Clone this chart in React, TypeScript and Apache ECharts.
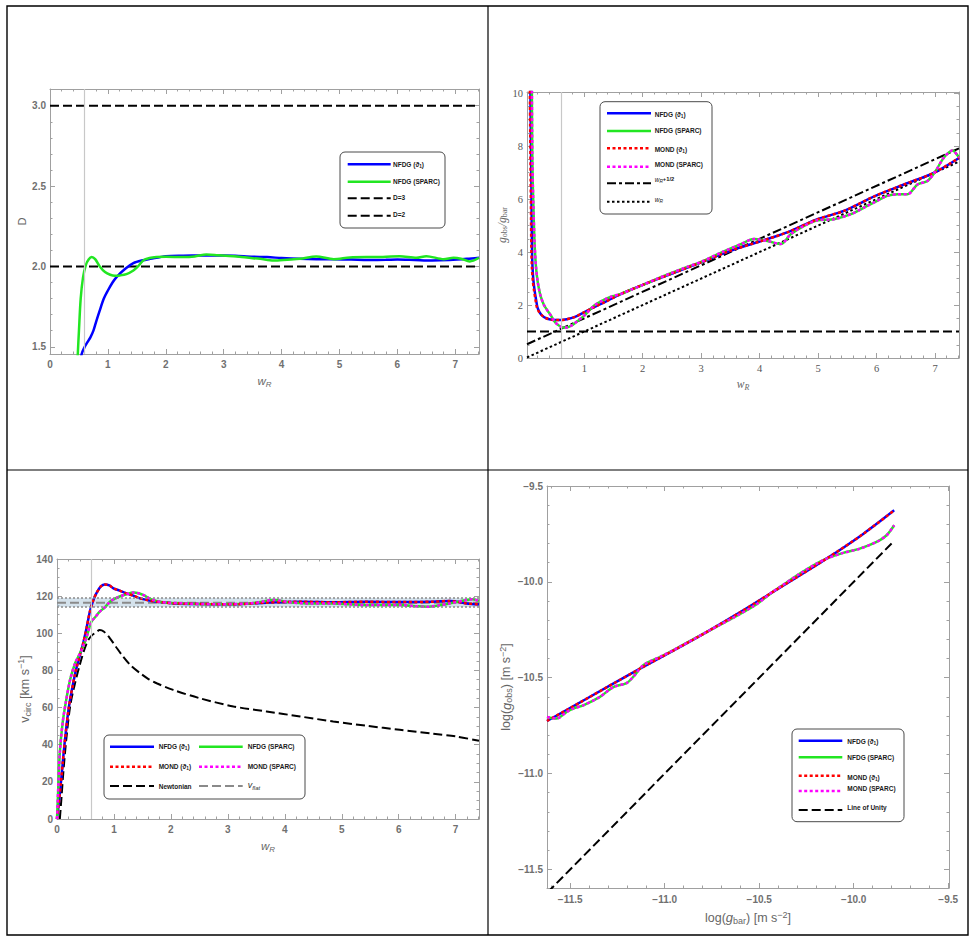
import React, { useEffect, useRef } from "react";
import * as echarts from "echarts";

// ---------------- Panel A (top-left): D vs w_R ----------------
const aNfdgWR = [0.52, 0.547, 0.6, 0.65, 0.7, 0.75, 0.8, 0.86, 0.93, 1.0, 1.08, 1.15, 1.3, 1.44, 1.6, 1.73, 2.0, 2.3, 2.6, 3.0, 3.2, 3.5, 3.75, 4.0, 4.3, 4.6, 4.9, 5.2, 5.5, 5.8, 6.0, 6.3, 6.6, 6.9, 7.2, 7.41];
const aNfdgD = [1.38, 1.455, 1.5, 1.53, 1.56, 1.6, 1.66, 1.727, 1.8, 1.85, 1.9, 1.934, 1.985, 2.02, 2.038, 2.047, 2.064, 2.067, 2.068, 2.068, 2.066, 2.06, 2.058, 2.052, 2.047, 2.045, 2.045, 2.043, 2.04, 2.041, 2.043, 2.04, 2.037, 2.04, 2.047, 2.054];
const aSparcWR = [0.45, 0.48, 0.5, 0.53, 0.57, 0.62, 0.67, 0.72, 0.78, 0.86, 0.95, 1.04, 1.12, 1.21, 1.32, 1.44, 1.52, 1.61, 1.72, 1.84, 2.0, 2.3, 2.5, 2.7, 2.9, 3.17, 3.4, 3.63, 3.86, 4.1, 4.32, 4.6, 4.9, 5.18, 5.47, 5.75, 6.04, 6.33, 6.5, 6.8, 6.97, 7.1, 7.25, 7.41];
const aSparcD = [1.2, 1.455, 1.6, 1.8, 1.93, 2.01, 2.045, 2.058, 2.045, 2.0, 1.965, 1.948, 1.942, 1.944, 1.952, 1.975, 2.0, 2.037, 2.052, 2.058, 2.06, 2.058, 2.062, 2.074, 2.07, 2.064, 2.055, 2.047, 2.037, 2.042, 2.047, 2.062, 2.045, 2.056, 2.058, 2.058, 2.064, 2.054, 2.064, 2.045, 2.054, 2.048, 2.031, 2.054];
const aRefWR = [0, 7.41];
const aD3 = [3, 3];
const aD2 = [2, 2];
const aXTicks = [0, 1, 2, 3, 4, 5, 6, 7];
const aYTicks = [1.5, 2.0, 2.5, 3.0];

// ---------------- Panel B (top-right): g_obs/g_bar vs w_R ----------------
const bNfdgWR = [0.077, 0.085, 0.094, 0.1, 0.105, 0.115, 0.13, 0.15, 0.175, 0.2, 0.236, 0.28, 0.35, 0.45, 0.6, 0.7, 0.83, 1.0, 1.17, 1.34, 1.63, 2.0, 2.48, 3.0, 3.5, 3.99, 4.47, 4.99, 5.44, 5.98, 6.47, 6.98, 7.41];
const bNfdgG = [10.3, 8.5, 6.68, 5.3, 4.16, 3.4, 2.92, 2.55, 2.2, 1.9, 1.72, 1.6, 1.5, 1.44, 1.43, 1.46, 1.54, 1.73, 1.92, 2.1, 2.42, 2.76, 3.17, 3.61, 4.05, 4.39, 4.74, 5.24, 5.55, 6.12, 6.55, 6.99, 7.55];
const bMondWR = [0.068, 0.075, 0.083, 0.089, 0.094, 0.104, 0.119, 0.14, 0.165, 0.19, 0.23, 0.28, 0.35, 0.45, 0.6, 0.7, 0.83, 1.0, 1.17, 1.34, 1.63, 2.0, 2.48, 3.0, 3.5, 3.99, 4.47, 4.99, 5.44, 5.98, 6.47, 6.98, 7.41];
const bMondG = [10.3, 8.5, 6.68, 5.3, 4.16, 3.4, 2.92, 2.55, 2.2, 1.9, 1.72, 1.6, 1.5, 1.44, 1.43, 1.46, 1.54, 1.73, 1.92, 2.1, 2.42, 2.76, 3.17, 3.61, 4.05, 4.39, 4.74, 5.24, 5.55, 6.12, 6.55, 6.99, 7.55];
const bSparcWR = [0.103, 0.107, 0.112, 0.12, 0.135, 0.15, 0.175, 0.2, 0.23, 0.26, 0.31, 0.37, 0.43, 0.48, 0.55, 0.62, 0.7, 0.8, 0.9, 1.0, 1.17, 1.34, 1.48, 1.63, 1.8, 1.97, 2.2, 2.48, 2.75, 3.0, 3.34, 3.68, 3.9, 4.13, 4.36, 4.53, 4.76, 4.99, 5.27, 5.56, 5.84, 6.01, 6.18, 6.36, 6.53, 6.7, 6.87, 7.01, 7.15, 7.3, 7.41];
const bSparcG = [10.3, 8.6, 7.4, 6.5, 5.3, 4.3, 3.4, 2.92, 2.55, 2.29, 2.0, 1.79, 1.6, 1.41, 1.25, 1.16, 1.15, 1.25, 1.42, 1.6, 1.98, 2.2, 2.33, 2.42, 2.58, 2.73, 2.95, 3.2, 3.43, 3.63, 3.98, 4.3, 4.49, 4.42, 4.3, 4.67, 4.99, 5.2, 5.24, 5.43, 5.74, 5.93, 6.12, 6.18, 6.18, 6.55, 6.68, 7.06, 7.56, 7.83, 7.56];
const bRefWR = [0.02, 7.41];
const bHalf = [0.52, 7.91];
const bUnit = [0.02, 7.41];
const bOne = [1, 1];
const bXTicks = [1, 2, 3, 4, 5, 6, 7];
const bYTicks = [0, 2, 4, 6, 8, 10];

// ---------------- Panel C (bottom-left): v_circ vs w_R ----------------
const cNfdgWR = [0, 0.03, 0.07, 0.1, 0.14, 0.21, 0.32, 0.4, 0.46, 0.52, 0.58, 0.64, 0.7, 0.77, 0.84, 0.92, 0.99, 1.1, 1.22, 1.34, 1.46, 1.6, 1.75, 1.9, 2.04, 2.5, 3.1, 3.68, 4.27, 4.85, 5.44, 6.02, 6.6, 6.9, 7.19, 7.41];
const cNfdgV = [0, 8, 20, 30, 42.6, 60.6, 78.5, 88, 94.6, 103, 112, 118, 122, 125.2, 126.3, 125.8, 124.2, 123, 121.5, 120.3, 118.8, 117.8, 117, 116.5, 116.1, 115.8, 115.6, 116.5, 117, 116.7, 117, 116.8, 117, 117.4, 116.1, 115.6];
const cSparcWR = [0, 0.02, 0.05, 0.1, 0.15, 0.23, 0.32, 0.4, 0.46, 0.52, 0.6, 0.68, 0.75, 0.84, 0.93, 1.02, 1.1, 1.22, 1.34, 1.43, 1.52, 1.6, 1.69, 1.8, 1.93, 2.22, 2.8, 3.39, 3.6, 3.8, 4.09, 4.38, 4.85, 5.14, 5.44, 6.02, 6.3, 6.49, 6.7, 6.9, 7.19, 7.3, 7.41];
const cSparcV = [0, 15, 36, 52, 62, 75, 84, 89, 93, 98, 106, 109, 111.6, 114, 117, 118.7, 119.8, 121, 121.9, 121.6, 120.6, 119.2, 117.9, 117, 116.5, 116.1, 115.6, 116.1, 117, 117.9, 116.7, 116.1, 116.1, 115.6, 115.2, 115.2, 114.6, 114.3, 115, 116.1, 117.9, 118.3, 117.4];
const cNewtWR = [0.05, 0.08, 0.11, 0.16, 0.23, 0.3, 0.4, 0.52, 0.6, 0.7, 0.75, 0.82, 0.93, 1.04, 1.16, 1.3, 1.46, 1.6, 1.75, 2.04, 2.51, 3.1, 3.68, 4.27, 4.85, 5.44, 6.02, 6.6, 7.0, 7.41];
const cNewtV = [0, 12, 24.7, 42, 60.6, 71, 83, 94.6, 98.5, 100.9, 101.8, 101, 97.3, 92.5, 87.5, 82.5, 78.5, 75.5, 73.1, 69.5, 65, 60.6, 57.9, 55.2, 52.5, 50.2, 48, 45.9, 44.5, 42.1];
const cFlatWR = [0, 7.41];
const cFlatV = [116.5, 116.5];
const cBand = [114.2, 119.0];
const cXTicks = [0, 1, 2, 3, 4, 5, 6, 7];
const cYTicks = [0, 20, 40, 60, 80, 100, 120, 140];

// ---------------- Panel D (bottom-right): log g_obs vs log g_bar ----------------
const dNfdgBar = [-11.623, -11.4, -11.131, -10.95, -10.779, -10.6, -10.391, -10.144, -9.95, -9.786];
const dNfdgObs = [-10.726, -10.602, -10.453, -10.356, -10.262, -10.158, -10.03, -9.879, -9.75, -9.627];
const dSparcBar = [-11.623, -11.572, -11.519, -11.484, -11.431, -11.343, -11.272, -11.202, -11.167, -11.114, -11.026, -10.956, -10.779, -10.532, -10.426, -10.391, -10.285, -10.197, -10.144, -10.056, -9.968, -9.879, -9.826, -9.786];
const dSparcObs = [-10.705, -10.713, -10.679, -10.661, -10.644, -10.6, -10.549, -10.528, -10.496, -10.435, -10.392, -10.357, -10.262, -10.128, -10.05, -10.027, -9.957, -9.905, -9.879, -9.849, -9.827, -9.792, -9.757, -9.705];
const dUnity = [-11.62, -9.786];
const dTicks = [-11.5, -11.0, -10.5, -10.0, -9.5];

const markWR = 0.6;

// ---------------- styling ----------------
const SANS = "'Liberation Sans', Arial, Helvetica, 'DejaVu Sans', sans-serif";
const SERIF = "'Liberation Serif', 'Times New Roman', 'DejaVu Serif', serif";
const FRAME = "#a0a0a0";

const ST: Record<string, { color: string; width: number; dash?: number[] }> = {
  nfdg: { color: "#0000ff", width: 2.5 },
  sparc: { color: "#22e622", width: 2.5 },
  mond: { color: "#ff0000", width: 2.5, dash: [3, 2.5] },
  mondS: { color: "#ff00ff", width: 2.5, dash: [3, 2.5] },
  dashed: { color: "#000000", width: 2, dash: [9, 4] },
  dashdot: { color: "#000000", width: 2, dash: [9, 3, 3, 3] },
  dotted: { color: "#000000", width: 2, dash: [2.5, 2.5] },
  flat: { color: "#8a8a8a", width: 2, dash: [9, 4] },
};

const range = (a: number, b: number, s: number) => {
  const out: number[] = [];
  for (let v = a; v <= b + 1e-9; v += s) out.push(+v.toFixed(4));
  return out;
};
const zip = (xs: number[], ys: number[]) => xs.map((x, i) => [x, ys[i]]);

const tickSans = { fontFamily: SANS, fontSize: 10, color: "#707070", fontWeight: "bold" };
const tickSerif = { fontFamily: SERIF, fontSize: 10.5, color: "#555555" };

const nameRich = (family: string, size: number) => ({
  n: { fontFamily: family, fontSize: size, color: "#666", lineHeight: size + 3 },
  i: { fontFamily: family, fontSize: size + 0.5, color: "#666", fontStyle: "italic", lineHeight: size + 3 },
  s: { fontFamily: family, fontSize: size * 0.72, color: "#666", lineHeight: size * 0.72, verticalAlign: "bottom" },
  si: { fontFamily: family, fontSize: size * 0.72, color: "#666", fontStyle: "italic", lineHeight: size * 0.72, verticalAlign: "bottom" },
  p: { fontFamily: family, fontSize: size * 0.72, color: "#666", lineHeight: size * 0.72, verticalAlign: "top" },
});

function addAxes(
  list: any[],
  dim: "x" | "y",
  grid: number,
  min: number,
  max: number,
  majors: number[],
  minors: number[],
  label: any,
  name: any
) {
  const [p1, p2] = dim === "x" ? ["bottom", "top"] : ["left", "right"];
  const base = {
    type: "value",
    gridIndex: grid,
    min,
    max,
    splitLine: { show: false },
    axisLabel: { show: false },
    axisTick: { show: false },
    axisLine: { show: false, onZero: false },
    silent: true,
  };
  const major = (pos: string) => ({
    ...base,
    position: pos,
    axisLine: { show: true, onZero: false, lineStyle: { color: FRAME, width: 1 } },
    axisTick: { show: true, inside: true, length: 5, customValues: majors, lineStyle: { color: FRAME, width: 1 } },
  });
  const minor = (pos: string) => ({
    ...base,
    position: pos,
    axisTick: { show: true, inside: true, length: 2.5, customValues: minors, lineStyle: { color: FRAME, width: 1 } },
  });
  list.push(
    { ...major(p1), axisLabel: { show: true, customValues: majors, ...label }, ...name },
    minor(p1),
    major(p2),
    minor(p2)
  );
}

function ser(name: string, grid: number, xs: number[], ys: number[], st: { color: string; width: number; dash?: number[] }, extra: any = {}) {
  return {
    type: "line",
    name,
    xAxisIndex: grid * 4,
    yAxisIndex: grid * 4,
    data: zip(xs, ys),
    symbol: "none",
    showSymbol: false,
    smooth: 0.3,
    clip: true,
    silent: true,
    lineStyle: { color: st.color, width: st.width, type: st.dash ? st.dash : "solid", cap: "butt" },
    emphasis: { disabled: true },
    ...extra,
  };
}

const vLine = {
  silent: true,
  symbol: ["none", "none"],
  label: { show: false },
  lineStyle: { color: "#c8c8c8", width: 1.2, type: "solid" },
  emphasis: { disabled: true },
  data: [{ xAxis: markWR }],
};

const INK = "#1a1a1a";
const LEG_RICH = {
  b: { fontFamily: SANS, fontSize: 6.5, fontWeight: "bold", fill: INK, color: INK, lineHeight: 9 },
  bs: { fontFamily: SANS, fontSize: 4.8, fontWeight: "bold", fill: INK, color: INK, lineHeight: 5, verticalAlign: "bottom" },
  wi: { fontFamily: SANS, fontSize: 6.5, fontStyle: "italic", fill: INK, color: INK, lineHeight: 9 },
  ws: { fontFamily: SANS, fontSize: 4.8, fontStyle: "italic", fill: INK, color: INK, lineHeight: 5, verticalAlign: "bottom" },
  wn: { fontFamily: SANS, fontSize: 5.8, fontWeight: "bold", fill: INK, color: INK, lineHeight: 9 },
  vi: { fontFamily: SANS, fontSize: 9, fontStyle: "italic", fill: "#333", color: "#333", lineHeight: 11 },
  vs: { fontFamily: SANS, fontSize: 6, fontStyle: "italic", fill: "#333", color: "#333", lineHeight: 6, verticalAlign: "bottom" },
};

const T_NFDG = "{b|NFDG (ϑ}{bs|1}{b|)}";
const T_NFDGS = "{b|NFDG (SPARC)}";
const T_MOND = "{b|MOND (ϑ}{bs|1}{b|)}";
const T_MONDS = "{b|MOND (SPARC)}";

type Entry = { label: string; st: { color: string; width: number; dash?: number[] }; dy?: number };
function legendBox(box: number[], cols: { x1: number; x2: number; tx: number; ys: number[]; entries: Entry[] }[]) {
  const els: any[] = [
    {
      type: "rect",
      silent: true,
      z: 60,
      shape: { x: box[0], y: box[1], width: box[2], height: box[3], r: 5 },
      style: { fill: "#ffffff", stroke: "#4a4a4a", lineWidth: 1 },
    },
  ];
  cols.forEach((c) =>
    c.entries.forEach((e, i) => {
      const y = c.ys[i];
      const style: any = { stroke: e.st.color, lineWidth: e.st.width };
      if (e.st.dash) style.lineDash = e.st.dash;
      els.push({ type: "line", silent: true, z: 61, shape: { x1: c.x1, y1: y, x2: c.x2, y2: y }, style });
      els.push({
        type: "text",
        silent: true,
        z: 62,
        x: c.tx,
        y: y + (e.dy || 0),
        style: { text: e.label, rich: LEG_RICH, align: "left", verticalAlign: "middle", fill: INK, fontFamily: SANS, fontSize: 6.5 },
      });
    })
  );
  return els;
}

function buildOption() {
  const xAxis: any[] = [];
  const yAxis: any[] = [];
  const sansName = nameRich(SANS, 11);
  const sansBig = nameRich(SANS, 12.5);
  const serifName = nameRich(SERIF, 11);
  const fmt1 = (v: number) => v.toFixed(1);
  const fmtInt = (v: number) => String(Math.round(v));
  const fmtNeg = (v: number) => v.toFixed(1).replace("-", "\u2212");

  // Panel A
  addAxes(xAxis, "x", 0, 0, 7.41, aXTicks, range(0, 7.4, 0.2), { ...tickSans, margin: 5, formatter: fmtInt },
    { name: "{i|w}{si|R}", nameLocation: "middle", nameGap: 20, nameTextStyle: { rich: sansName } });
  addAxes(yAxis, "y", 0, 1.455, 3.104, aYTicks, range(1.5, 3.1, 0.1), { ...tickSans, margin: 4, formatter: fmt1 },
    { name: "{n|D}", nameLocation: "middle", nameGap: 21, nameTextStyle: { rich: sansName } });
  // Panel B
  addAxes(xAxis, "x", 1, 0.02, 7.41, bXTicks, range(0.2, 7.4, 0.2), { ...tickSerif, margin: 5, formatter: fmtInt },
    { name: "{i|w}{si|R}", nameLocation: "middle", nameGap: 19, nameTextStyle: { rich: serifName } });
  addAxes(yAxis, "y", 1, 0, 10.04, bYTicks, range(0, 10, 0.5), { ...tickSerif, margin: 4, formatter: fmtInt },
    { name: "{i|g}{s|obs}{i|/g}{s|bar}", nameLocation: "middle", nameGap: 15, nameTextStyle: { rich: serifName } });
  // Panel C
  addAxes(xAxis, "x", 2, 0, 7.41, cXTicks, range(0, 7.4, 0.2), { ...tickSans, margin: 5, formatter: fmtInt },
    { name: "{i|w}{si|R}", nameLocation: "middle", nameGap: 20, nameTextStyle: { rich: sansName } });
  addAxes(yAxis, "y", 2, 0, 140, cYTicks, range(0, 140, 5), { ...tickSans, margin: 4, formatter: fmtInt },
    { name: "{n|v}{s|circ}{n| [km s}{p|\u22121}{n|]}", nameLocation: "middle", nameGap: 24, nameTextStyle: { rich: sansBig } });
  // Panel D
  addAxes(xAxis, "x", 3, -11.623, -9.496, dTicks, range(-11.6, -9.5, 0.1), { ...tickSans, margin: 6, formatter: fmtNeg },
    { name: "{n|log(}{i|g}{s|bar}{n|) [m s}{p|\u22122}{n|]}", nameLocation: "middle", nameGap: 22, nameTextStyle: { rich: sansBig } });
  addAxes(yAxis, "y", 3, -11.597, -9.5, dTicks, range(-11.5, -9.5, 0.1), { ...tickSans, margin: 4, formatter: fmtNeg },
    { name: "{n|log(}{i|g}{s|obs}{n|) [m s}{p|\u22122}{n|]}", nameLocation: "middle", nameGap: 33, nameTextStyle: { rich: sansBig } });

  const series: any[] = [
    // A
    ser("D=3", 0, aRefWR, aD3, ST.dashed, { markLine: vLine, smooth: false }),
    ser("D=2", 0, aRefWR, aD2, ST.dashed, { smooth: false }),
    ser("NFDG (ϑ1)", 0, aNfdgWR, aNfdgD, ST.nfdg),
    ser("NFDG (SPARC)", 0, aSparcWR, aSparcD, ST.sparc),
    // B
    ser("g=1", 1, bRefWR, bOne, ST.dashed, { markLine: vLine, smooth: false }),
    ser("w_R+1/2", 1, bRefWR, bHalf, ST.dashdot, { smooth: false }),
    ser("w_R", 1, bRefWR, bUnit, ST.dotted, { smooth: false }),
    ser("NFDG (ϑ1)", 1, bNfdgWR, bNfdgG, ST.nfdg),
    ser("NFDG (SPARC)", 1, bSparcWR, bSparcG, ST.sparc),
    ser("MOND (ϑ1)", 1, bMondWR, bMondG, ST.mond),
    ser("MOND (SPARC)", 1, bSparcWR, bSparcG, ST.mondS),
    // C
    ser("v_flat", 2, cFlatWR, cFlatV, ST.flat, {
      smooth: false,
      markArea: {
        silent: true,
        itemStyle: { color: "rgba(160,190,212,0.45)" },
        emphasis: { disabled: true },
        data: [[{ yAxis: cBand[0] }, { yAxis: cBand[1] }]],
      },
      markLine: {
        silent: true,
        symbol: ["none", "none"],
        label: { show: false },
        emphasis: { disabled: true },
        lineStyle: { color: "#8a8a8a", width: 1.5, type: [2, 2] },
        data: [{ yAxis: cBand[0] }, { yAxis: cBand[1] }, { xAxis: markWR, lineStyle: { color: "#c8c8c8", width: 1.2, type: "solid" } }],
      },
    }),
    ser("Newtonian", 2, cNewtWR, cNewtV, ST.dashed),
    ser("NFDG (ϑ1)", 2, cNfdgWR, cNfdgV, ST.nfdg),
    ser("NFDG (SPARC)", 2, cSparcWR, cSparcV, ST.sparc),
    ser("MOND (ϑ1)", 2, cNfdgWR, cNfdgV, ST.mond),
    ser("MOND (SPARC)", 2, cSparcWR, cSparcV, ST.mondS),
    // D
    ser("Line of Unity", 3, dUnity, dUnity, ST.dashed, { smooth: false }),
    ser("NFDG (ϑ1)", 3, dNfdgBar, dNfdgObs, ST.nfdg),
    ser("NFDG (SPARC)", 3, dSparcBar, dSparcObs, ST.sparc),
    ser("MOND (ϑ1)", 3, dNfdgBar, dNfdgObs, ST.mond),
    ser("MOND (SPARC)", 3, dSparcBar, dSparcObs, ST.mondS),
  ];

  const graphic: any[] = [
    { type: "rect", silent: true, z: 50, shape: { x: 7, y: 6, width: 961, height: 929 }, style: { fill: "none", stroke: "#000", lineWidth: 1.4 } },
    { type: "line", silent: true, z: 50, shape: { x1: 488, y1: 6, x2: 488, y2: 935 }, style: { stroke: "#000", lineWidth: 1.2 } },
    { type: "line", silent: true, z: 50, shape: { x1: 7, y1: 470, x2: 968, y2: 470 }, style: { stroke: "#000", lineWidth: 1.2 } },
    ...legendBox([340, 152, 105, 76], [
      {
        x1: 347.7, x2: 390.7, tx: 393, ys: [164.3, 181.7, 198.3, 215.7],
        entries: [
          { label: T_NFDG, st: ST.nfdg },
          { label: T_NFDGS, st: ST.sparc },
          { label: "{b|D=3}", st: ST.dashed, dy: -1 },
          { label: "{b|D=2}", st: ST.dashed, dy: -1 },
        ],
      },
    ]),
    ...legendBox([600, 101.7, 112, 112.3], [
      {
        x1: 607, x2: 651, tx: 654.7, ys: [113.3, 131, 148.3, 166.7, 183.3, 201.7],
        entries: [
          { label: T_NFDG, st: ST.nfdg, dy: 1 },
          { label: T_NFDGS, st: ST.sparc, dy: -1 },
          { label: T_MOND, st: ST.mond, dy: 1 },
          { label: T_MONDS, st: ST.mondS, dy: -2 },
          { label: "{wi|w}{ws|R}{wn|+1/2}", st: ST.dashdot, dy: -4 },
          { label: "{wi|w}{ws|R}", st: ST.dotted, dy: -2 },
        ],
      },
    ]),
    ...legendBox([104, 735, 201, 64], [
      {
        x1: 110, x2: 154, tx: 158.7, ys: [746.7, 766.7, 786],
        entries: [
          { label: T_NFDG, st: ST.nfdg },
          { label: T_MOND, st: ST.mond },
          { label: "{b|Newtonian}", st: ST.dashed },
        ],
      },
      {
        x1: 199, x2: 242.7, tx: 247.7, ys: [746.7, 766.7, 786],
        entries: [
          { label: T_NFDGS, st: ST.sparc },
          { label: T_MONDS, st: ST.mondS },
          { label: "{vi|v}{vs|flat}", st: ST.flat, dy: -1 },
        ],
      },
    ]),
    ...legendBox([792, 729, 112, 92.7], [
      {
        x1: 798.7, x2: 842.3, tx: 847.3, ys: [740.7, 757.3, 775.7, 791, 810],
        entries: [
          { label: T_NFDG, st: ST.nfdg, dy: 1 },
          { label: T_NFDGS, st: ST.sparc },
          { label: T_MOND, st: ST.mond, dy: 2 },
          { label: T_MONDS, st: ST.mondS, dy: -3 },
          { label: "{b|Line of Unity}", st: ST.dashed, dy: -3 },
        ],
      },
    ]),
  ];

  return {
    animation: false,
    backgroundColor: "#ffffff",
    grid: [
      { left: 50, top: 89, width: 429, height: 265, containLabel: false, outerBoundsMode: "none" },
      { left: 527, top: 92, width: 432, height: 266, containLabel: false, outerBoundsMode: "none" },
      { left: 57, top: 559, width: 422, height: 260, containLabel: false, outerBoundsMode: "none" },
      { left: 547, top: 486, width: 402, height: 402, containLabel: false, outerBoundsMode: "none" },
    ],
    xAxis,
    yAxis,
    series,
    graphic,
  };
}

export default function App() {
  const ref = useRef<HTMLDivElement>(null);
  useEffect(() => {
    if (!ref.current) return;
    const chart = echarts.init(ref.current, undefined, { renderer: "svg" });
    chart.setOption(buildOption() as any);
    return () => chart.dispose();
  }, []);
  return (
    <div
      ref={ref}
      style={{ position: "fixed", left: 0, top: 0, width: 976, height: 942, background: "#ffffff" }}
    />
  );
}
